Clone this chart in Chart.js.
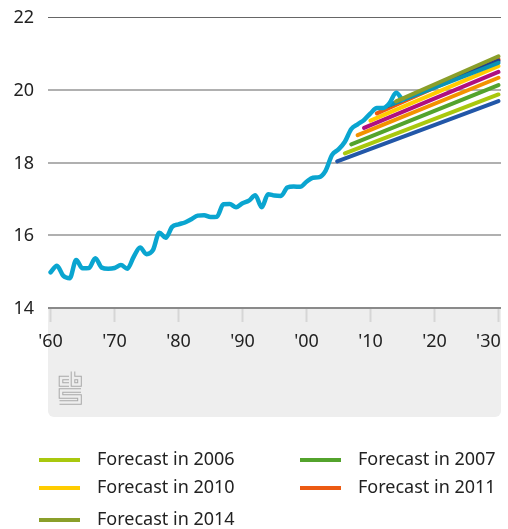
<!DOCTYPE html>
<html>
<head>
<meta charset="utf-8">
<script src="https://cdn.jsdelivr.net/npm/chart.js@4"></script>
<style>
html,body{margin:0;padding:0;background:#fff;width:508px;height:529px;overflow:hidden}
body{position:relative;font-family:"Noto Sans",sans-serif;color:#222}
#panel{position:absolute;left:48px;top:308px;width:453px;height:109px;background:#eeeeee;border-radius:0 0 6px 6px}
#logo{position:absolute;left:0;top:0}
#wrap{position:absolute;left:0;top:0;width:508px;height:529px}
.sw{position:absolute;width:41px;height:4px}
.lb{position:absolute;font-size:18px;line-height:24px;white-space:nowrap;color:#222}
</style>
</head>
<body>
<div id="panel"></div>
<svg id="logo" width="508" height="529" fill="none" stroke-linejoin="miter">
  <g stroke="#a8a8a8" stroke-width="4.6">
    <path d="M69 378 H61 V384.5 H69"/><path d="M73 371.5 V384.5 H79.5 V378 H73"/>
    <path d="M81 390.5 H61 V396.5 H79.5 V402.5 H59.5"/>
  </g>
  <g stroke="#eeeeee" stroke-width="2.6">
    <path d="M70 378 H61 V384.5 H70"/><path d="M73 370.5 V384.5 H79.5 V378 H73"/>
    <path d="M82 390.5 H61 V396.5 H79.5 V402.5 H58.5"/>
  </g>
</svg>
<div id="wrap"><canvas id="c" width="508" height="529"></canvas></div>
<div id="legend"></div>
<script>
const decades = [1960,1970,1980,1990,2000,2010,2020,2030];
const yTicks = [14,16,18,20,22];
const obsYears = [1960,1961,1962,1963,1964,1965,1966,1967,1968,1969,1970,1971,1972,1973,1974,1975,1976,1977,1978,1979,1980,1981,1982,1983,1984,1985,1986,1987,1988,1989,1990,1991,1992,1993,1994,1995,1996,1997,1998,1999,2000,2001,2002,2003,2004,2005,2006,2007,2008,2009,2010,2011,2012,2013,2014,2015];
const obsValues = [14.98,15.16,14.88,14.82,15.32,15.09,15.10,15.37,15.11,15.08,15.10,15.18,15.08,15.41,15.66,15.48,15.59,16.07,15.93,16.23,16.30,16.35,16.44,16.54,16.55,16.50,16.51,16.85,16.86,16.77,16.88,16.95,17.10,16.77,17.13,17.09,17.08,17.31,17.34,17.33,17.47,17.58,17.60,17.78,18.21,18.36,18.57,18.92,19.05,19.17,19.35,19.50,19.50,19.64,19.92,19.72];
const forecastNames  = ["Forecast in 2005","Forecast in 2006","Forecast in 2007","Forecast in 2008","Forecast in 2009","Forecast in 2010","Forecast in 2011","Forecast in 2012","Forecast in 2013","Forecast in 2014"];
const forecastStartYear = [2004.8,2006,2007,2008,2009,2010,2011,2012.6,2013,2014];
const forecastStart = [18.03,18.25,18.50,18.75,18.95,19.15,19.35,19.55,19.58,19.68];
const forecastEnd   = [19.69,19.87,20.13,20.33,20.49,20.65,20.84,20.80,20.74,20.92];
const forecastColors = ["#2257a8","#a9c80e","#53a32c","#f39200","#af0e80","#ffcc00","#ec5a12","#22408f","#0a93b5","#8a9f2a"];
const obsColor = "#0aa5d0";
const legendNames = ["Forecast in 2006","Forecast in 2007","Forecast in 2010","Forecast in 2011","Forecast in 2014"];
const legendLeft = [39,300,39,300,39];
const legendTop = [458,458,486,486,518];

const lineBase = {borderWidth:4,pointRadius:0,fill:false,borderCapStyle:'round',borderJoinStyle:'round'};
const datasets = forecastNames.map((n,i)=>({
  ...lineBase,label:n,borderColor:forecastColors[i],tension:0,
  order: i===9 ? 0 : 20-i,
  data:[{x:forecastStartYear[i],y:forecastStart[i]},{x:2030,y:forecastEnd[i]}]
}));
datasets.push({...lineBase,borderWidth:4.5,label:"Observed",borderColor:obsColor,cubicInterpolationMode:'monotone',order:1,
  data:obsYears.map((y,i)=>({x:y,y:obsValues[i]}))});

const nudgeLabels = {
  id:'nudgeLabels',
  beforeDraw(chart){
    const xi=chart.scales.x.getLabelItems();
    const last=xi[xi.length-1];
    if(last && !last._moved){last.options.translation[0]-=10;last._moved=true;}
    chart.scales.y.getLabelItems().forEach(it=>{
      if(!it._moved){it.options.translation[1]+=1;it._moved=true;}
    });
  }
};

new Chart(document.getElementById('c'),{
  type:'line',
  data:{datasets},
  plugins:[nudgeLabels],
  options:{
    responsive:false,animation:false,
    layout:{padding:{top:17,right:7,left:0,bottom:0}},
    plugins:{legend:{display:false},title:{display:false},tooltip:{enabled:false}},
    scales:{
      x:{type:'linear',min:1959.6,max:2030.4,
        afterBuildTicks:a=>{a.ticks=decades.map(v=>({value:v}))},
        afterFit:a=>{a.height=221;a.paddingLeft=0;a.paddingRight=0},
        border:{display:false},
        grid:{drawOnChartArea:false,drawTicks:true,tickLength:14,tickColor:'#d6d6d6',tickWidth:2},
        ticks:{padding:9,maxRotation:0,autoSkip:false,color:'#222',font:{family:'"Noto Sans"',size:18},
          callback:v=>"'"+String(v%100).padStart(2,'0')}
      },
      y:{min:14,max:22,
        afterBuildTicks:a=>{a.ticks=yTicks.map(v=>({value:v}))},
        afterFit:a=>{a.width=48;a.paddingTop=0;a.paddingBottom=0},
        border:{display:false},
        grid:{drawTicks:false,
          color:c=>c.tick.value===22?'#666666':(c.tick.value===14?'#8a8a8a':'#b0b0b0'),
          lineWidth:c=>c.tick.value===22?1:2},
        ticks:{padding:14,color:'#222',font:{family:'"Noto Sans"',size:18}}
      }
    }
  }
});

const lg=document.getElementById('legend');
legendNames.forEach((n,i)=>{
  const idx=forecastNames.indexOf(n);
  const s=document.createElement('div');s.className='sw';
  s.style.left=legendLeft[i]+'px';s.style.top=legendTop[i]+'px';s.style.background=forecastColors[idx];
  const t=document.createElement('div');t.className='lb';t.textContent=n;
  t.style.left=(legendLeft[i]+58)+'px';t.style.top=(legendTop[i]-12)+'px';
  lg.append(s,t);
});
</script>
</body>
</html>
